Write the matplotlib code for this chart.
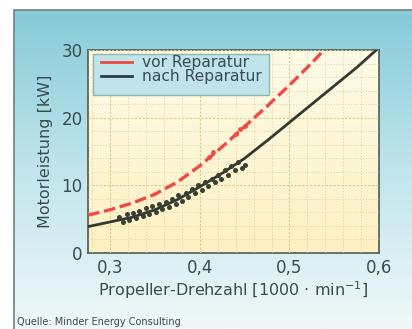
import matplotlib.pyplot as plt
import numpy as np
from matplotlib.colors import LinearSegmentedColormap
from matplotlib.patches import Rectangle
from matplotlib.ticker import MultipleLocator, FuncFormatter

# Messkurven
drehzahl_vor = [0.275, 0.30, 0.325, 0.35, 0.375, 0.40, 0.425, 0.45, 0.475, 0.50, 0.525, 0.54]
leistung_vor = [5.6, 6.4, 7.4, 8.7, 10.5, 12.9, 15.7, 18.7, 21.7, 24.8, 28.1, 30.2]

drehzahl_nach = [0.275, 0.30, 0.325, 0.35, 0.375, 0.40, 0.425, 0.45, 0.475, 0.50, 0.525, 0.55, 0.575, 0.597]
leistung_nach = [3.9, 4.6, 5.3, 6.4, 7.9, 9.8, 11.8, 14.0, 16.6, 19.3, 22.0, 24.7, 27.4, 30.0]

# Streuende Messpunkte nach Reparatur
streu_x = [0.310, 0.314, 0.318, 0.321, 0.325, 0.329, 0.332, 0.336, 0.340, 0.343, 0.347, 0.351,
           0.354, 0.358, 0.362, 0.365, 0.369, 0.373, 0.376, 0.380, 0.384, 0.387, 0.391,
           0.395, 0.398, 0.402, 0.406, 0.409, 0.413, 0.417, 0.420, 0.424, 0.428, 0.431,
           0.435, 0.439, 0.443, 0.447, 0.450]
streu_y = [5.3, 4.6, 5.7, 4.9, 5.9, 5.1, 6.2, 5.5, 6.6, 5.8, 6.9, 6.1,
           7.2, 6.5, 7.6, 6.8, 8.0, 7.3, 8.5, 7.7, 8.9, 8.3, 9.5,
           8.8, 10.0, 9.3, 10.5, 9.9, 11.0, 10.5, 11.5, 11.0, 12.2, 11.6,
           12.8, 12.2, 13.4, 12.6, 13.0]

# Messpunkte vor Reparatur (Häufungen)
rot_x = [0.41, 0.415, 0.44, 0.445, 0.45]
rot_y = [14.2, 14.9, 17.6, 18.3, 18.8]

x_ticks = [0.3, 0.4, 0.5, 0.6]
y_ticks = [0, 10, 20, 30]

text_col = '#3b4b52'

fig = plt.figure(figsize=(4.12, 3.29), dpi=100)

# Hintergrund-Panel mit Verlauf
bg = fig.add_axes([0, 0, 1, 1], zorder=-2)
bg.set_xlim(0, 412)
bg.set_ylim(329, 0)
bg.axis('off')
panel_cmap = LinearSegmentedColormap.from_list('panel', ['#86cbd8', '#c0e5ec', '#f1f8f9'])
grad = np.linspace(0, 1, 256).reshape(-1, 1)
bg.imshow(grad, cmap=panel_cmap, extent=(14, 412, 329, 10), aspect='auto')
bg.plot([14, 14, 412], [329, 10, 10], color='#6f7f85', lw=1.2)

ax = fig.add_axes([88 / 412, 76 / 329, 291 / 412, 203 / 329])
ax.set_xlim(0.275, 0.6)
ax.set_ylim(0, 30)

face_cmap = LinearSegmentedColormap.from_list('face', ['#fffbe8', '#fdf0c2'])
ax.imshow(grad, cmap=face_cmap, extent=(0.275, 0.6, 0, 30), aspect='auto', zorder=0)

ax.xaxis.set_major_locator(MultipleLocator(0.1))
ax.xaxis.set_minor_locator(MultipleLocator(0.02))
ax.yaxis.set_major_locator(MultipleLocator(10))
ax.yaxis.set_minor_locator(MultipleLocator(2))
ax.grid(True, which='major', color='#d9c98a', lw=0.8, ls=(0, (2, 1.5)), zorder=1)
ax.grid(True, which='minor', color='#ddd3a6', lw=0.6, ls=(0, (1.5, 2)), zorder=1)
ax.set_axisbelow(False)

ax.plot(drehzahl_vor, leistung_vor, color='#ef4a44', lw=2.4, ls=(0, (3.5, 1.4)), zorder=3)
ax.scatter(rot_x, rot_y, color='#ef4a44', s=12, marker='o', lw=0, zorder=3)
ax.plot(drehzahl_nach, leistung_nach, color='#333830', lw=2.0, zorder=4)
ax.scatter(streu_x, streu_y, color='#3a3f35', s=13, marker='o', lw=0, zorder=4)

ax.set_xticks(x_ticks)
ax.set_yticks(y_ticks)
ax.xaxis.set_major_formatter(FuncFormatter(lambda v, p: f'{v:.1f}'.replace('.', ',')))
ax.tick_params(which='both', length=0, labelsize=12, colors=text_col, pad=4)
for s in ax.spines.values():
    s.set_color('#4e5a55')
    s.set_linewidth(1.2)

ax.set_xlabel('Propeller-Drehzahl [1000 · min$^{-1}$]', fontsize=11.5, color=text_col, labelpad=2)
ax.set_ylabel('Motorleistung [kW]', fontsize=11.5, color=text_col, labelpad=6)

# Legendenkasten
ax.add_patch(Rectangle((0.017, 0.778), 0.605, 0.202, transform=ax.transAxes,
                       facecolor='#bfe4ec', edgecolor='#8fb8a8', lw=1.0, zorder=5))
ax.plot([], [], color='#ef4a44', lw=2, label='vor Reparatur')
ax.plot([], [], color='#2f3c48', lw=2, label='nach Reparatur')
leg = ax.legend(loc='upper left', bbox_to_anchor=(0.035, 0.99), fontsize=11.2, frameon=False,
                handlelength=2.0, handletextpad=0.6, borderpad=0.2, labelspacing=-0.05,
                borderaxespad=0.0, labelcolor=text_col)
leg.set_zorder(6)

fig.text(17 / 412, 1 - 322 / 329, 'Quelle: Minder Energy Consulting', fontsize=7,
         color=text_col, va='center', ha='left')

fig.savefig('out.png', dpi=100)
